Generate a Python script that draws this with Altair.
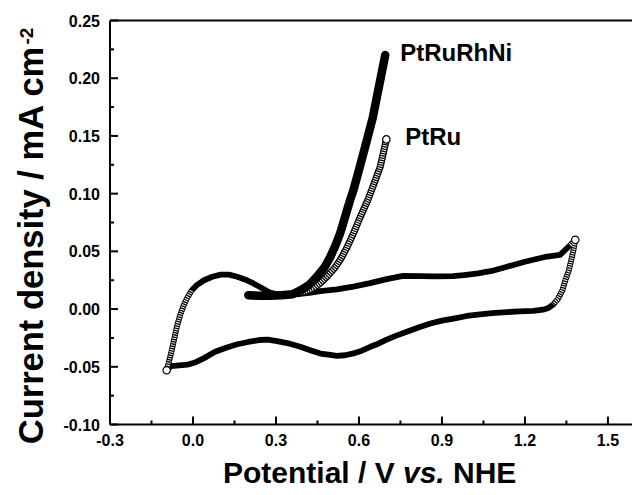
import altair as alt
import pandas as pd

# ---- data ----
cv_x = [-0.095, -0.085, -0.076, -0.067, -0.058, -0.046, -0.034, -0.020, -0.005, 0.015,
        0.040, 0.070, 0.100, 0.130, 0.160, 0.190, 0.220, 0.250, 0.275, 0.300,
        0.340, 0.380, 0.420, 0.460, 0.520, 0.580, 0.640, 0.700, 0.760, 0.820,
        0.880, 0.940, 0.980, 1.030, 1.080, 1.135, 1.200, 1.280, 1.327, 1.364, 1.382,
        1.376, 1.368, 1.358, 1.346, 1.335, 1.320, 1.303, 1.285, 1.265, 1.230,
        1.180, 1.135, 1.080, 1.038, 0.990, 0.942, 0.900, 0.858, 0.815, 0.773,
        0.735, 0.700, 0.670, 0.641, 0.610, 0.580, 0.550, 0.520, 0.490, 0.460,
        0.424, 0.388, 0.350, 0.304, 0.270, 0.240, 0.200, 0.160, 0.120, 0.080,
        0.040, 0.010, -0.020, -0.050, -0.080, -0.095]
cv_y = [-0.053, -0.044, -0.035, -0.025, -0.015, -0.005, 0.003, 0.010, 0.016, 0.021,
        0.025, 0.028, 0.0298, 0.0298, 0.028, 0.0255, 0.022, 0.018, 0.0145, 0.013,
        0.0125, 0.013, 0.014, 0.0155, 0.017, 0.0195, 0.0225, 0.026, 0.0288, 0.0285,
        0.0283, 0.0285, 0.0295, 0.031, 0.033, 0.0367, 0.041, 0.0455, 0.047, 0.0555, 0.060,
        0.052, 0.043, 0.033, 0.025, 0.016, 0.009, 0.004, 0.001, -0.0005, -0.0015,
        -0.002, -0.0026, -0.0035, -0.0045, -0.006, -0.0082, -0.010, -0.0125, -0.016, -0.0197,
        -0.023, -0.0265, -0.030, -0.0327, -0.036, -0.0384, -0.040, -0.0405, -0.0395, -0.0385,
        -0.0356, -0.0327, -0.030, -0.0278, -0.0265, -0.0268, -0.0285, -0.0305, -0.0335, -0.037,
        -0.0425, -0.046, -0.0482, -0.0488, -0.0495, -0.053]

rhni_x = [0.200, 0.240, 0.280, 0.320, 0.360, 0.390, 0.420, 0.448, 0.475, 0.496, 0.515,
          0.532, 0.550, 0.568, 0.580, 0.604, 0.629, 0.650, 0.665, 0.680, 0.695]
rhni_y = [0.012, 0.0115, 0.0115, 0.012, 0.0128, 0.0165, 0.021, 0.028, 0.036, 0.045, 0.055,
          0.0656, 0.080, 0.0945, 0.103, 0.124, 0.1466, 0.166, 0.184, 0.202, 0.220]

ptru_x = [0.300, 0.340, 0.376, 0.410, 0.436, 0.460, 0.484, 0.510, 0.532, 0.556, 0.580,
          0.605, 0.632, 0.655, 0.677, 0.688, 0.699]
ptru_y = [0.0125, 0.0125, 0.0135, 0.0155, 0.018, 0.0225, 0.028, 0.035, 0.0425, 0.053, 0.0656,
          0.080, 0.0945, 0.109, 0.1234, 0.135, 0.147]

labels = ["PtRuRhNi", "PtRu"]
label_x = [0.749, 0.767]
label_y = [0.2146, 0.1422]

x_major = [-0.3, 0.0, 0.3, 0.6, 0.9, 1.2, 1.5]
x_labels = ["-0.3", "0.0", "0.3", "0.6", "0.9", "1.2", "1.5"]
x_minor = [-0.15, 0.15, 0.45, 0.75, 1.05, 1.35]
y_major = [-0.10, -0.05, 0.0, 0.05, 0.10, 0.15, 0.20, 0.25]
y_labels = ["-0.10", "-0.05", "0.00", "0.05", "0.10", "0.15", "0.20", "0.25"]
y_minor = [-0.075, -0.025, 0.025, 0.075, 0.125, 0.175, 0.225]

# ---- tables ----
cv = pd.DataFrame({"i": range(len(cv_x)), "x": cv_x, "y": cv_y})
cv_h = cv[(cv.i <= 8)]                      # sparse open-circle part (H region)
cv_o = cv[(cv.i >= 39) & (cv.i <= 47)]      # sparse open-circle part (high potential)
rh = pd.DataFrame({"i": range(len(rhni_x)), "x": rhni_x, "y": rhni_y})
pr = pd.DataFrame({"i": range(len(ptru_x)), "x": ptru_x, "y": ptru_y})
lab = pd.DataFrame({"t": labels, "x": label_x, "y": label_y})
ends = pd.DataFrame({"x": [cv_x[0], cv_x[40], ptru_x[-1]], "y": [cv_y[0], cv_y[40], ptru_y[-1]]})
xl = pd.DataFrame({"x": x_major, "t": x_labels})
yl = pd.DataFrame({"y": y_major, "t": y_labels})

W, H = 522, 404
FONT = "Liberation Sans"

xs = alt.Scale(domain=[-0.3, 1.587], nice=False, zero=False)
ys = alt.Scale(domain=[-0.1, 0.25], nice=False, zero=False)

X = lambda: alt.X("x:Q", scale=xs, axis=None)
Y = lambda: alt.Y("y:Q", scale=ys, axis=None)

def line(df, width, color="black", dash=None):
    kw = dict(color=color, strokeWidth=width, strokeCap="round", strokeJoin="round")
    if dash:
        kw["strokeDash"] = dash
        kw["strokeCap"] = "butt"
    return alt.Chart(df).mark_line(**kw).encode(x=X(), y=Y(), order="i:Q")

layers = [
    line(cv, 5.8),
    line(cv_h, 4, color="white", dash=[1, 1.3]),
    line(cv_o, 4, color="white", dash=[1, 1.3]),
    line(pr, 7),
    line(pr, 4.5, color="white", dash=[1, 1.3]),
    line(rh, 8.5),
    alt.Chart(ends).mark_point(shape="circle", filled=True, fill="white", stroke="black",
                               strokeWidth=1.2, size=55, opacity=1).encode(x=X(), y=Y()),
    alt.Chart(lab).mark_text(font=FONT, fontSize=24, fontWeight="bold", align="left",
                             baseline="alphabetic", color="black").encode(x=X(), y=Y(), text="t:N"),
]

one = pd.DataFrame({"a": [0]})

# frame (left, bottom, top)
frame = [
    alt.Chart(one).mark_rule(color="black", strokeWidth=2).encode(
        x=alt.value(0), x2=alt.value(W), y=alt.value(0)),
    alt.Chart(one).mark_rule(color="black", strokeWidth=2).encode(
        x=alt.value(0), x2=alt.value(W), y=alt.value(H)),
    alt.Chart(one).mark_rule(color="black", strokeWidth=2).encode(
        x=alt.value(0), y=alt.value(0), y2=alt.value(H)),
]

# inward ticks
def xt(vals, ln):
    return alt.Chart(pd.DataFrame({"x": vals})).mark_rule(color="black", strokeWidth=2).encode(
        x=X(), y=alt.value(H), y2=alt.value(H - ln))

def yt(vals, ln):
    return alt.Chart(pd.DataFrame({"y": vals})).mark_rule(color="black", strokeWidth=2).encode(
        y=Y(), x=alt.value(0), x2=alt.value(ln))

ticklabels = [
    alt.Chart(xl).mark_text(font=FONT, fontSize=16, fontWeight="bold", align="center",
                            baseline="alphabetic", color="black").encode(
        x=X(), y=alt.value(H + 21), text="t:N"),
    alt.Chart(yl).mark_text(font=FONT, fontSize=16, fontWeight="bold", align="right",
                            baseline="alphabetic", color="black", dy=6).encode(
        y=Y(), x=alt.value(-10), text="t:N"),
]

def txt(s, x, y, size, angle=0, italic=False, align="left"):
    kw = dict(text=s, font=FONT, fontSize=size, fontWeight="bold", align=align,
              baseline="alphabetic", color="black")
    if italic:
        kw["fontStyle"] = "italic"
    if angle:
        kw["angle"] = angle
    return alt.Chart(one).mark_text(**kw).encode(x=alt.value(x), y=alt.value(y))

TY = 462
titles = [
    txt("Potential / V", 113, TY, 30),
    txt("vs.", 293, TY, 30, italic=True),
    txt("NHE", 343, TY, 30),
    txt("Current density / mA cm", -67, 225, 34.5, angle=270, align="center"),
    txt("-2", -77, 15.5, 19, angle=270, align="center"),
]

chart = alt.layer(
    *layers, xt(x_major, 8), xt(x_minor, 4), yt(y_major, 8), yt(y_minor, 4), *frame,
    *ticklabels, *titles
).properties(
    width=W, height=H,
    padding={"left": 102, "top": 12.5, "right": 0, "bottom": 62.5},
    autosize=alt.AutoSizeParams(type="none"),
).configure(
    background="white",
    view=alt.ViewConfig(stroke=None),
)

chart.save("out.html", embed_options={"renderer": "svg", "actions": False})
